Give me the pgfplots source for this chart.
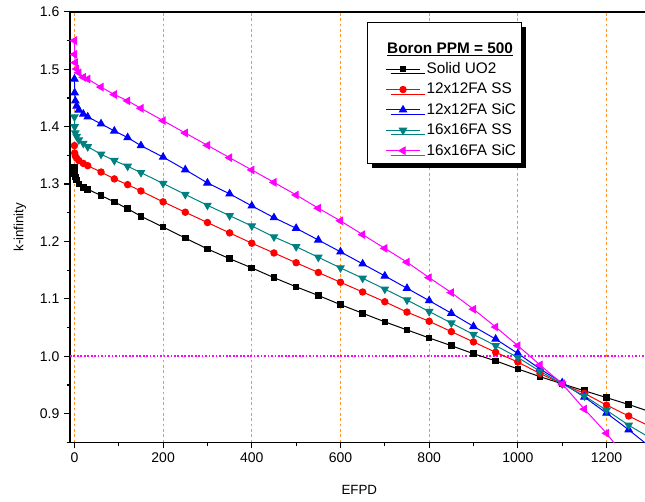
\documentclass[border=0pt]{standalone}
\usepackage{fontspec}
\setmainfont{Liberation Sans}
\usepackage{pgfplots}
\pgfplotsset{compat=1.18}
\usetikzlibrary{shadows}
\definecolor{mteal}{RGB}{0,128,128}
\definecolor{mmag}{RGB}{255,0,255}
\definecolor{mred}{RGB}{255,0,0}
\definecolor{mblue}{RGB}{0,0,255}
\definecolor{gridorange}{RGB}{255,150,40}

\pgfplotstableread{
x k
0 1.329
0.5 1.318
2 1.312
5 1.307
10 1.300
20 1.294
30 1.291
60 1.280
90 1.269
120 1.257
150 1.244
200 1.225
250 1.206
300 1.187
350 1.170
400 1.154
450 1.137
500 1.121
550 1.106
600 1.090
650 1.075
700 1.060
750 1.046
800 1.032
850 1.0185
900 1.0045
950 0.992
1000 0.978
1050 0.9645
1100 0.952
1150 0.940
1200 0.928
1250 0.916
1300 0.903
}\solid

\pgfplotstableread{
x k
0 1.367
0.5 1.354
2 1.349
5 1.345
10 1.341
20 1.336
30 1.332
60 1.321
90 1.309
120 1.299
150 1.288
200 1.269
250 1.251
300 1.233
350 1.215
400 1.197
450 1.180
500 1.163
550 1.146
600 1.129
650 1.112
700 1.095
750 1.077
800 1.061
850 1.043
900 1.025
950 1.007
1000 0.990
1050 0.970
1100 0.952
1150 0.9355
1200 0.915
1250 0.896
1300 0.877
}\twelveSS

\pgfplotstableread{
x k
0 1.483
0.5 1.459
2 1.445
5 1.436
10 1.429
20 1.422
30 1.417
60 1.405
90 1.3925
120 1.381
150 1.367
200 1.347
250 1.325
300 1.302
350 1.283
400 1.262
450 1.2415
500 1.223
550 1.2026
600 1.182
650 1.161
700 1.140
750 1.1185
800 1.097
850 1.075
900 1.052
950 1.030
1000 1.005
1050 0.978
1100 0.954
1150 0.929
1200 0.901
1250 0.872
1300 0.841
}\twelveSiC

\pgfplotstableread{
x k
0 1.417
0.5 1.400
2 1.389
5 1.383
10 1.377
20 1.371
30 1.365
60 1.352
90 1.341
120 1.331
150 1.320
200 1.301
250 1.282
300 1.263
350 1.245
400 1.227
450 1.208
500 1.191
550 1.1725
600 1.154
650 1.136
700 1.117
750 1.098
800 1.078
850 1.058
900 1.038
950 1.0185
1000 0.998
1050 0.974
1100 0.952
1150 0.931
1200 0.906
1250 0.880
1300 0.857
}\sixteenSS

\pgfplotstableread{
x k
0 1.550
0.5 1.526
2 1.5115
5 1.5005
10 1.494
20 1.486
30 1.483
60 1.469
90 1.456
120 1.445
150 1.432
200 1.4105
250 1.389
300 1.3675
350 1.346
400 1.3246
450 1.303
500 1.281
550 1.258
600 1.236
650 1.212
700 1.188
750 1.164
800 1.137
850 1.111
900 1.082
950 1.051
1000 1.0185
1050 0.985
1100 0.952
1150 0.908
1200 0.866
1250 0.816
}\sixteenSiC

\begin{document}
\begin{tikzpicture}
\begin{axis}[
  at={(52.5pt,43.95pt)}, anchor=south west,
  scale only axis, width=433.98pt, height=322.9pt,
  xmin=-10, xmax=1295, ymin=0.85, ymax=1.6,
  xtick={0,200,400,600,800,1000,1200},
  minor xtick={100,300,500,700,900,1100,1300},
  ytick={0.9,1.0,1.1,1.2,1.3,1.4,1.5,1.6},
  minor ytick={0.85,0.95,1.05,1.15,1.25,1.35,1.45,1.55},
  yticklabel style={/pgf/number format/.cd,fixed,fixed zerofill,precision=1},
  /pgf/number format/1000 sep={},
  /pgf/number format/assume math mode=true,
  tick label style={font=\fontsize{10.5}{12}\selectfont},
  label style={font=\fontsize{11.2}{13}\selectfont},
  tick align=outside, xtick pos=bottom, ytick pos=left,
  major tick length=4.5pt, minor tick length=2.5pt,
  every tick/.style={black, line width=0.9pt},
  axis line style={black, line width=1.2pt},
  xmajorgrids,
  major x grid style={gridorange, line width=0.8pt, dash pattern=on 2pt off 2pt},
  extra y ticks={1.0}, extra y tick labels={},
  extra y tick style={grid=major, major tick length=0pt,
     major grid style={mmag, line width=1.2pt, dash pattern=on 1.3pt off 1.3pt}},
  xlabel={EFPD}, ylabel={k-infinity},
  every axis x label/.style={at={(axis description cs:0.5,0)}, anchor=center, yshift=-35.7pt},
  every axis y label/.style={at={(axis description cs:0,0.5)}, xshift=-37.5pt, rotate=90, anchor=center},
  legend style={at={(0.5133,0.9765)}, anchor=north west, draw=black, line width=0.75pt,
     fill=white, font=\fontsize{11.5}{13}\selectfont,
     inner xsep=4pt, inner ysep=4.5pt, row sep=5.6pt, column sep=4.5pt,
     nodes={inner sep=0pt},
     drop shadow={shadow xshift=3.5pt, shadow yshift=-3.5pt, fill=black, opacity=1}},
  legend cell align=left,
  legend image code/.code={\path (0pt,0pt);
     \draw[mark repeat=2,mark phase=2,#1] plot coordinates {(9.5pt,0pt)(22.25pt,0pt)(35pt,0pt)};},
]
\addlegendimage{empty legend}
\addlegendentry{\hspace*{-29.5pt}\raisebox{0pt}[18.5pt][2.5pt]{\textbf{\underline{Boron PPM = 500}}}}
\addplot[black, line width=0.75pt, mark=square*, mark size=2.1pt, mark options={solid}] table[x=x,y=k] {\solid};
\addlegendentry{Solid UO2}
\addplot[mred, line width=0.75pt, mark=*, mark size=2.4pt, mark options={solid}] table[x=x,y=k] {\twelveSS};
\addlegendentry{12x12FA SS}
\addplot[mblue, line width=0.75pt, mark=triangle*, mark size=3.1pt, mark options={solid}] table[x=x,y=k] {\twelveSiC};
\addlegendentry{12x12FA SiC}
\addplot[mteal, line width=0.75pt, mark=triangle*, mark size=3.1pt, mark options={solid, rotate=180}] table[x=x,y=k] {\sixteenSS};
\addlegendentry{16x16FA SS}
\addplot[mmag, line width=0.75pt, mark=triangle*, mark size=3.1pt, mark options={solid, rotate=90}] table[x=x,y=k] {\sixteenSiC};
\addlegendentry{16x16FA SiC}
\end{axis}
\pgfresetboundingbox
\path[use as bounding box] (0pt,0pt) rectangle (483.75pt,375.75pt);
\end{tikzpicture}
\end{document}
